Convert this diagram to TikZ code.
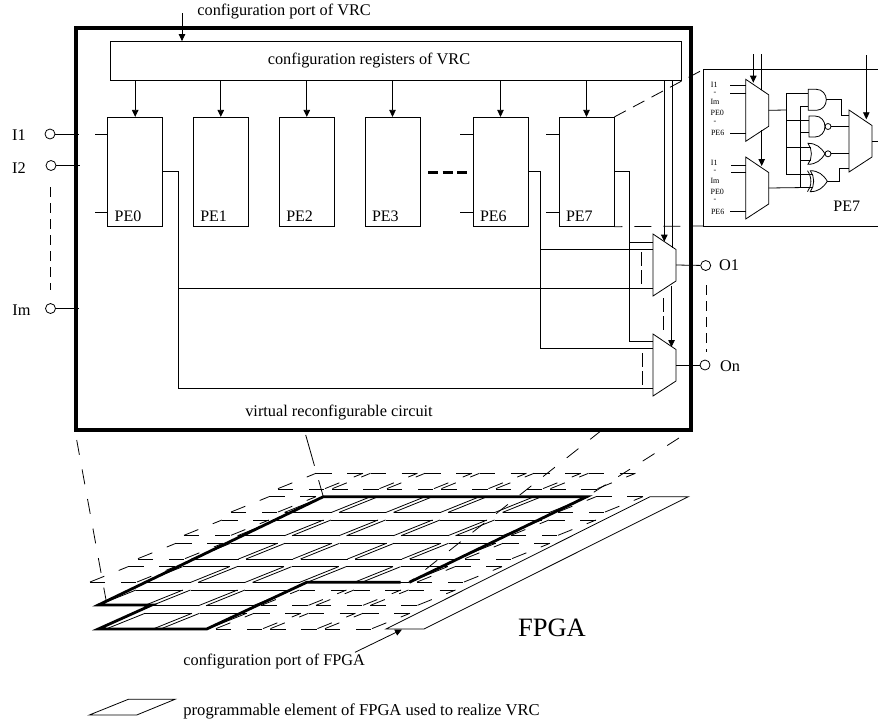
\documentclass[tikz,border=0pt]{standalone}
\usepackage{fontspec}
\setmainfont{Liberation Serif}
\usetikzlibrary{arrows.meta}
\newcommand{\fsz}[1]{\fontsize{#1}{#1}\selectfont}
\begin{document}
\begin{tikzpicture}[x=1pt,y=-1pt,line width=0.8pt,
  pe/.style={draw,minimum width=55,minimum height=109,inner sep=0,
    label={[anchor=south west,inner sep=0,xshift=7,yshift=5,font=\fsz{16}]south west:#1}},
  txt/.style={font=\fsz{16.3},inner sep=0},
  tiny/.style={font=\fsz{8},inner sep=0},
  portc/.style={circle,draw,minimum size=10,inner sep=0},
  ar/.style={-{Triangle[length=7,width=6.5]}},
  dsh/.style={dash pattern=on 15 off 15},
  cellon/.style={line width=0.8pt},
  celloff/.style={line width=0.8pt,dash pattern=on 15.5 off 15.5},
  cellsl/.style={line width=0.8pt,dash pattern=on 15.5 off 15.5,dash phase=5.5},
  muxshape/.pic={
    \draw (0,0) -- (23,15.5) -- (23,47) -- (0,62) -- cycle;
    \coordinate (-out) at (23,31);
  },
  andshape/.pic={
    \draw (0,0) -- (8,0) .. controls (14,0) and (18,5) .. (18,10.5) .. controls (18,16) and (14,21) .. (8,21) -- (0,21) -- cycle;
    \coordinate (-in1) at (0,4);
    \coordinate (-in2) at (0,16.7);
    \coordinate (-out) at (18,10.5);
  },
  nandshape/.pic={
    \draw (0,0) -- (6,0) .. controls (12,0) and (16,5) .. (16,10.5) .. controls (16,16) and (12,21) .. (6,21) -- (0,21) -- cycle;
    \draw (19,10.5) circle (3);
    \coordinate (-in1) at (0,4);
    \coordinate (-in2) at (0,16.7);
    \coordinate (-out) at (22,10.5);
  },
  orshape/.pic={
    \draw (0,0) .. controls (4.5,6) and (4.5,15) .. (0,21) .. controls (8,21) and (13,17) .. (17,10.5) .. controls (13,4) and (8,0) .. (0,0) -- cycle;
    \coordinate (-in1) at (2.5,4);
    \coordinate (-in2) at (2.5,16.7);
    \coordinate (-out) at (17,10.5);
  }]
\useasboundingbox (0,0) rectangle (878,721);
% VRC frame
\node[draw,line width=3.5pt,minimum width=615,minimum height=402,inner sep=0] (vrc) at (383.5,229) {};
\node[draw,minimum width=571,minimum height=39,inner sep=0,txt] (cfg) at (395.5,61) {};
\node[txt] (cfgtext) at (369,61) {configuration registers of VRC};
\node[txt,anchor=west] (cfgport) at (197,12) {configuration port of VRC};
\node[txt] (vrclabel) at (339,413) {virtual reconfigurable circuit};
\coordinate (cp) at (182,13);
\draw[ar] (cp) -- (cp |- cfg.north);
% PEs
\node[pe=PE0] (pe0) at (135.2,171.8) {};
\node[pe=PE1] (pe1) at (220.8,171.8) {};
\node[pe=PE2] (pe2) at (306.8,171.8) {};
\node[pe=PE3] (pe3) at (392.5,171.8) {};
\node[pe=PE6] (pe6) at (500.5,171.8) {};
\node[pe=PE7] (pe7) at (586.5,171.8) {};
\foreach \p in {pe0,pe1,pe2,pe3,pe6,pe7} \draw[ar] (cfg.south -| \p) -- (\p.north);
\foreach \p in {pe0,pe6,pe7} {
  \draw ([yshift=37.8]\p.west) -- ++(-12.5,0);
  \draw ([yshift=-40.2]\p.west) -- ++(-12.5,0);
}
\coordinate (dots1) at (428,172);
\coordinate (dots2) at (467,172);
\draw[line width=3pt,dash pattern=on 10 off 4.5] (dots1) -- (dots2);
% inputs
\node[portc] (pi1) at (50,134) {};
\node[portc] (pi2) at (51,165.5) {};
\node[portc] (pim) at (50.5,308.5) {};
\node[txt] (li1) at (19,135) {I1};
\node[txt] (li2) at (19,168) {I2};
\node[txt] (lim) at (21.5,310) {Im};
\coordinate (ti1) at (79,134);
\coordinate (ti2) at (80,165.5);
\coordinate (tim) at (79,308.5);
\draw (pi1) -- (ti1);
\draw (pi2) -- (ti2);
\draw (pim) -- (tim);
\coordinate (di1) at (50.7,187);
\coordinate (di2) at (50.7,290);
\draw[dash pattern=on 10 off 6] (di1) -- (di2);
% output muxes
\pic (m1) at (653,234) {muxshape};
\pic (m2) at (653,334) {muxshape};
\coordinate (m1a) at (653,242);
\coordinate (m1b) at (653,249);
\coordinate (m1c) at (653,288.7);
\coordinate (m2a) at (653,341.7);
\coordinate (m2b) at (653,348);
\coordinate (m2c) at (653,388);
\coordinate (j0) at (178,171.8);
\coordinate (j6) at (540,171.8);
\coordinate (j7) at (629.7,171.8);
\draw (pe7.east) -- (j7) |- (m2a);
\draw (j7 |- m1a) -- (m1a);
\draw (pe6.east) -- (j6) |- (m2b);
\draw (j6 |- m1b) -- (m1b);
\draw (pe0.east) -- (j0) |- (m2c);
\draw (j0 |- m1c) -- (m1c);
\coordinate (ctla) at (664.3,241.7);
\coordinate (ctlb) at (672.3,248);
\coordinate (ctlc) at (671.5,285.5);
\coordinate (ctld) at (671.5,347);
\draw[ar] (ctla |- cfg.south) -- (ctla);
\draw (ctlb |- cfg.south) -- (ctlb);
\draw[ar] (ctlc) -- (ctld);
\node[portc] (po1) at (705.7,265.5) {};
\node[portc] (pon) at (705,365) {};
\node[txt] (lo1) at (729,265.5) {O1};
\node[txt] (lon) at (730,366.5) {On};
\draw (m1-out) -- (po1);
\draw (m2-out) -- (pon);
\coordinate (d1a) at (641.3,252);
\coordinate (d1b) at (641.3,284);
\coordinate (d2a) at (663,298);
\coordinate (d2b) at (663,330);
\coordinate (d3a) at (642,353);
\coordinate (d3b) at (642,385);
\coordinate (d4a) at (706,285);
\coordinate (d4b) at (706,352);
\draw[dash pattern=on 14 off 4] (d1a) -- (d1b);
\draw[dash pattern=on 14 off 4] (d2a) -- (d2b);
\draw[dash pattern=on 14 off 4] (d3a) -- (d3b);
\draw[dash pattern=on 10 off 6] (d4a) -- (d4b);
% PE7 detail
\coordinate (ptl) at (703.7,69.3);
\coordinate (pbl) at (703.7,226);
\coordinate (ptr) at (878,69.3);
\coordinate (pbr) at (878,226);
\draw (ptr) -- (ptl) -- (pbl) -- (pbr);
\draw[dash pattern=on 13 off 8] (pe7.north east) -- (ptl);
\draw[dash pattern=on 17 off 12,dash phase=9] (pe7.south east) -- (pbl);
\node[font=\fsz{16},inner sep=0] (lpe7) at (846.7,206.7) {PE7};
\node[tiny] (a1) at (714.3,84.5) {I1};
\node[tiny] (a2) at (715,93.5) {-};
\node[tiny] (a3) at (715,102.3) {Im};
\node[tiny] (a4) at (717.3,113.3) {PE0};
\node[tiny] (a5) at (715,122.3) {-};
\node[tiny] (a6) at (717.7,133.3) {PE6};
\node[tiny] (b1) at (714.3,162.7) {I1};
\node[tiny] (b2) at (715,171.5) {-};
\node[tiny] (b3) at (715,181) {Im};
\node[tiny] (b4) at (717.3,191.7) {PE0};
\node[tiny] (b5) at (715,200.5) {-};
\node[tiny] (b6) at (717.7,212) {PE6};
\pic (ma) at (745.7,79.3) {muxshape};
\pic (mb) at (745.7,157) {muxshape};
\pic (mc) at (849,110) {muxshape};
\foreach \yy/\lx in {85.7/730,93.3/730,133.3/730,165/731,172.7/731,211.7/730} {
  \coordinate (st) at (\lx,\yy);
  \coordinate (en) at (745.7,\yy);
  \draw (st) -- (en);
}
\coordinate (ca) at (753.3,54);
\coordinate (cb) at (761.7,54);
\coordinate (cc) at (866.3,55);
\coordinate (cat) at (753.3,82.7);
\coordinate (cbt) at (761.7,90);
\coordinate (cbu) at (761.7,130);
\coordinate (cbv) at (761.7,166);
\coordinate (cct) at (866.3,119.3);
\draw[ar] (ca) -- (cat);
\draw (cb) -- (cbt);
\draw[ar] (cbu) -- (cbv);
\draw[ar] (cc) -- (cct);
\pic (g1) at (808.3,89.3) {andshape};
\pic (g2) at (809,116) {nandshape};
\pic (g3) at (808,143.3) {orshape};
\draw (g3-out) ++(3,0) circle (3);
\coordinate (g3o) at (831,153.8);
\pic (g4) at (810.3,170.7) {orshape};
\coordinate (g4b) at (807.5,170.7);
\coordinate (g4c) at (807.5,191.7);
\draw (g4b) .. controls (812,177) and (812,186) .. (g4c);
\coordinate (busa) at (786,110);
\coordinate (busb) at (800,187.4);
\draw (ma-out) -- (busa);
\draw (busa |- g1-in1) -- (busa |- g4-in1);
\foreach \g in {g1,g2,g3,g4} \draw (busa |- \g-in1) -- (\g-in1);
\draw (mb-out) -- (g4-in2);
\draw (busb |- g1-in2) -- (busb);
\foreach \g in {g1,g2,g3} \draw (busb |- \g-in2) -- (\g-in2);
\coordinate (c1) at (849,115);
\coordinate (c2) at (849,126.5);
\coordinate (c3) at (849,153.8);
\coordinate (c4) at (849,168.3);
\draw (g1-out) -- ++(14.7,0) |- (c1);
\draw (g2-out) -- (c2);
\draw (g3o) -- (c3);
\draw (g4-out) -- ++(12,0) |- (c4);
\coordinate (mco) at (878,141);
\draw (mc-out) -- (mco);
% FPGA grid
\foreach \ty/\bx/\cn/\sa/\sb in {473.3/277/5/9/9,496.7/230/6/1/5,520/183/6/1/5,543.3/137/6/1/5,566.7/89/6/1/5,590/97/5/0/2,613.3/106/4/0/1} {
  \foreach \c in {0,...,\cn} {
    \def\cs{celloff}\def\cl{cellsl}
    \ifnum\c<\sa\else\ifnum\c>\sb\else\def\cs{cellon}\def\cl{cellon}\fi\fi
    \pgfmathsetmacro{\cx}{\bx+54.5*\c}
    \draw[\cs] (\cx+39,\ty) -- (\cx+86,\ty);
    \draw[\cs] (\cx+47,\ty+15.7) -- (\cx,\ty+15.7);
    \draw[\cl] (\cx+39,\ty) -- (\cx,\ty+15.7);
    \draw[\cl] (\cx+86,\ty) -- (\cx+47,\ty+15.7);
  }
}
% VRC area on the FPGA
\coordinate (v1) at (323.3,496.7);
\coordinate (v2) at (586.7,496.7);
\coordinate (v3) at (409.3,582.3);
\coordinate (v4) at (400.7,582.3);
\coordinate (v5) at (306.7,582.3);
\coordinate (v6) at (206.7,629);
\coordinate (v7) at (98.3,629);
\coordinate (v8) at (151.7,605);
\coordinate (v9) at (98.3,605);
\draw[line width=2.8pt] (v4) -- (v5) -- (v6) -- (v7) -- (v8) -- (v9) -- (v1) -- (v2) -- (v3);
% projection lines
\coordinate (e1) at (76.7,440);
\coordinate (e2) at (107.5,608);
\coordinate (e3) at (305.7,435);
\coordinate (e4) at (602,430);
\coordinate (e5) at (679,438);
\draw[dsh] (e1) -- (e2);
\draw[dash pattern=on 32 off 15] (e3) -- (v1);
\draw[dsh] (e4) -- (v3);
\draw[dash pattern=on 14 off 15] (e5) -- (v2);
% large element and port
\coordinate (f1) at (650,496.7);
\coordinate (f2) at (688.3,496.7);
\coordinate (f3) at (424,629);
\coordinate (f4) at (386,629);
\draw (f1) -- (f2) -- (f3) -- (f4) -- cycle;
\node[font=\fsz{26.5},inner sep=0] (fpga) at (552,628) {FPGA};
\node[txt,anchor=west] (fport) at (183,662) {configuration port of FPGA};
\coordinate (fpa) at (355,652.3);
\coordinate (fpb) at (402,629.5);
\draw[ar] (fpa) -- (fpb);
% legend
\coordinate (l1) at (128.3,699.3);
\coordinate (l2) at (175,699.3);
\coordinate (l3) at (136.7,715);
\coordinate (l4) at (89.3,715);
\draw (l1) -- (l2) -- (l3) -- (l4) -- cycle;
\node[txt,font=\fsz{16.6},anchor=west] (legend) at (183,711) {programmable element of FPGA used to realize VRC};
\end{tikzpicture}
\end{document}
